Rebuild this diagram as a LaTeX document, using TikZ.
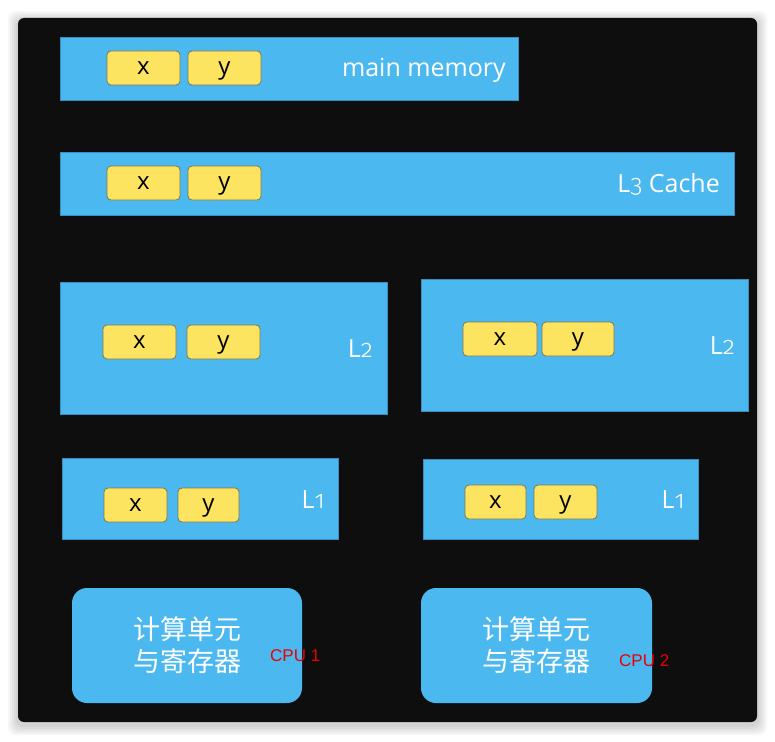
\documentclass[tikz,border=0pt]{standalone}
\usepackage{fontspec}
\setmainfont{Open Sans}
\newfontfamily\oldnum[Numbers=OldStyle]{Fira Sans Light}
\newfontfamily\cjk{Noto Sans CJK SC}
\newfontfamily\arialfont{Liberation Sans}
\definecolor{boardbg}{RGB}{14,14,14}
\definecolor{cacheblue}{RGB}{76,184,240}
\definecolor{cacheedge}{RGB}{60,140,190}
\definecolor{varyellow}{RGB}{252,227,96}
\definecolor{varedge}{RGB}{125,120,80}
\definecolor{cpured}{RGB}{235,0,0}
\begin{document}
\begin{tikzpicture}[x=1pt,y=-1pt,
    cachebox/.style={draw=cacheedge, line width=0.6pt, fill=cacheblue, anchor=north west, inner sep=0pt, outer sep=0pt},
    varbox/.style={draw=varedge, line width=0.8pt, fill=varyellow, rounded corners=4pt, anchor=north west, inner sep=0pt, outer sep=0pt, text height=12.5pt, text depth=0pt, font=\fontsize{24}{26}\selectfont},
    lvl/.style={anchor=east, text=white, inner sep=0pt, font=\fontsize{25}{28}\selectfont},
    cpubox/.style={fill=cacheblue, rounded corners=15pt, anchor=north west, inner sep=0pt, outer sep=0pt, text=white, align=center, font=\cjk\fontsize{27}{32}\selectfont},
    cpulbl/.style={anchor=west, text=cpured, inner sep=0pt, font=\arialfont\fontsize{17}{19}\selectfont}]
    \useasboundingbox (0,0) rectangle (775,741);
    \fill[white] (0,0) rectangle (775,741);
    % soft shadow and board
    \foreach \s in {10,8,6,4,2}
        \fill[black, opacity=0.035, rounded corners=8pt] (18-\s,18-\s+3) rectangle (757+\s,722+\s+3);
    \fill[boardbg, rounded corners=6pt] (18,18) rectangle (757,722);

    % main memory
    \node[cachebox, minimum width=458pt, minimum height=63pt] (mem) at (60,37) {};
    \node[varbox, minimum width=73pt, minimum height=34pt] (memx) at (107,51) {x};
    \node[varbox, minimum width=73pt, minimum height=34pt] (memy) at (188,51) {y};
    \node[lvl] (memlbl) at (506,70) {main memory};

    % L3
    \node[cachebox, minimum width=674pt, minimum height=63pt] (lthree) at (60,152) {};
    \node[varbox, minimum width=73pt, minimum height=34pt] (lthreex) at (107,166) {x};
    \node[varbox, minimum width=73pt, minimum height=34pt] (lthreey) at (188,166) {y};
    \node[lvl] (lthreelbl) at (720,184) {L{\oldnum 3} Cache};

    % L2
    \node[cachebox, minimum width=327pt, minimum height=132pt] (ltwoa) at (60,282) {};
    \node[varbox, minimum width=73pt, minimum height=34pt] (ltwoax) at (103,325) {x};
    \node[varbox, minimum width=73pt, minimum height=34pt] (ltwoay) at (187,325) {y};
    \node[lvl] (ltwoalbl) at (373,349) {L{\oldnum 2}};

    \node[cachebox, minimum width=327pt, minimum height=132pt] (ltwob) at (421,279) {};
    \node[varbox, minimum width=74pt, minimum height=34pt] (ltwobx) at (463,322) {x};
    \node[varbox, minimum width=72pt, minimum height=34pt] (ltwoby) at (542,322) {y};
    \node[lvl] (ltwoblbl) at (735,346) {L{\oldnum 2}};

    % L1
    \node[cachebox, minimum width=276pt, minimum height=81pt] (lonea) at (62,458) {};
    \node[varbox, minimum width=63pt, minimum height=34pt] (loneax) at (104,488) {x};
    \node[varbox, minimum width=61pt, minimum height=34pt] (loneay) at (178,488) {y};
    \node[lvl] (lonealbl) at (325,500) {L{\oldnum 1}};

    \node[cachebox, minimum width=275pt, minimum height=80pt] (loneb) at (423,459) {};
    \node[varbox, minimum width=61pt, minimum height=34pt] (lonebx) at (465,485) {x};
    \node[varbox, minimum width=63pt, minimum height=34pt] (loneby) at (534,485) {y};
    \node[lvl] (loneblbl) at (685,500) {L{\oldnum 1}};

    % CPUs
    \node[cpubox, minimum width=230pt, minimum height=115pt] (cpua) at (72,588) {计算单元\\与寄存器};
    \node[cpulbl] (cpualbl) at (270,656) {CPU 1};
    \node[cpubox, minimum width=231pt, minimum height=115pt] (cpub) at (421,588) {计算单元\\与寄存器};
    \node[cpulbl] (cpublbl) at (619,661) {CPU 2};
\end{tikzpicture}
\end{document}
